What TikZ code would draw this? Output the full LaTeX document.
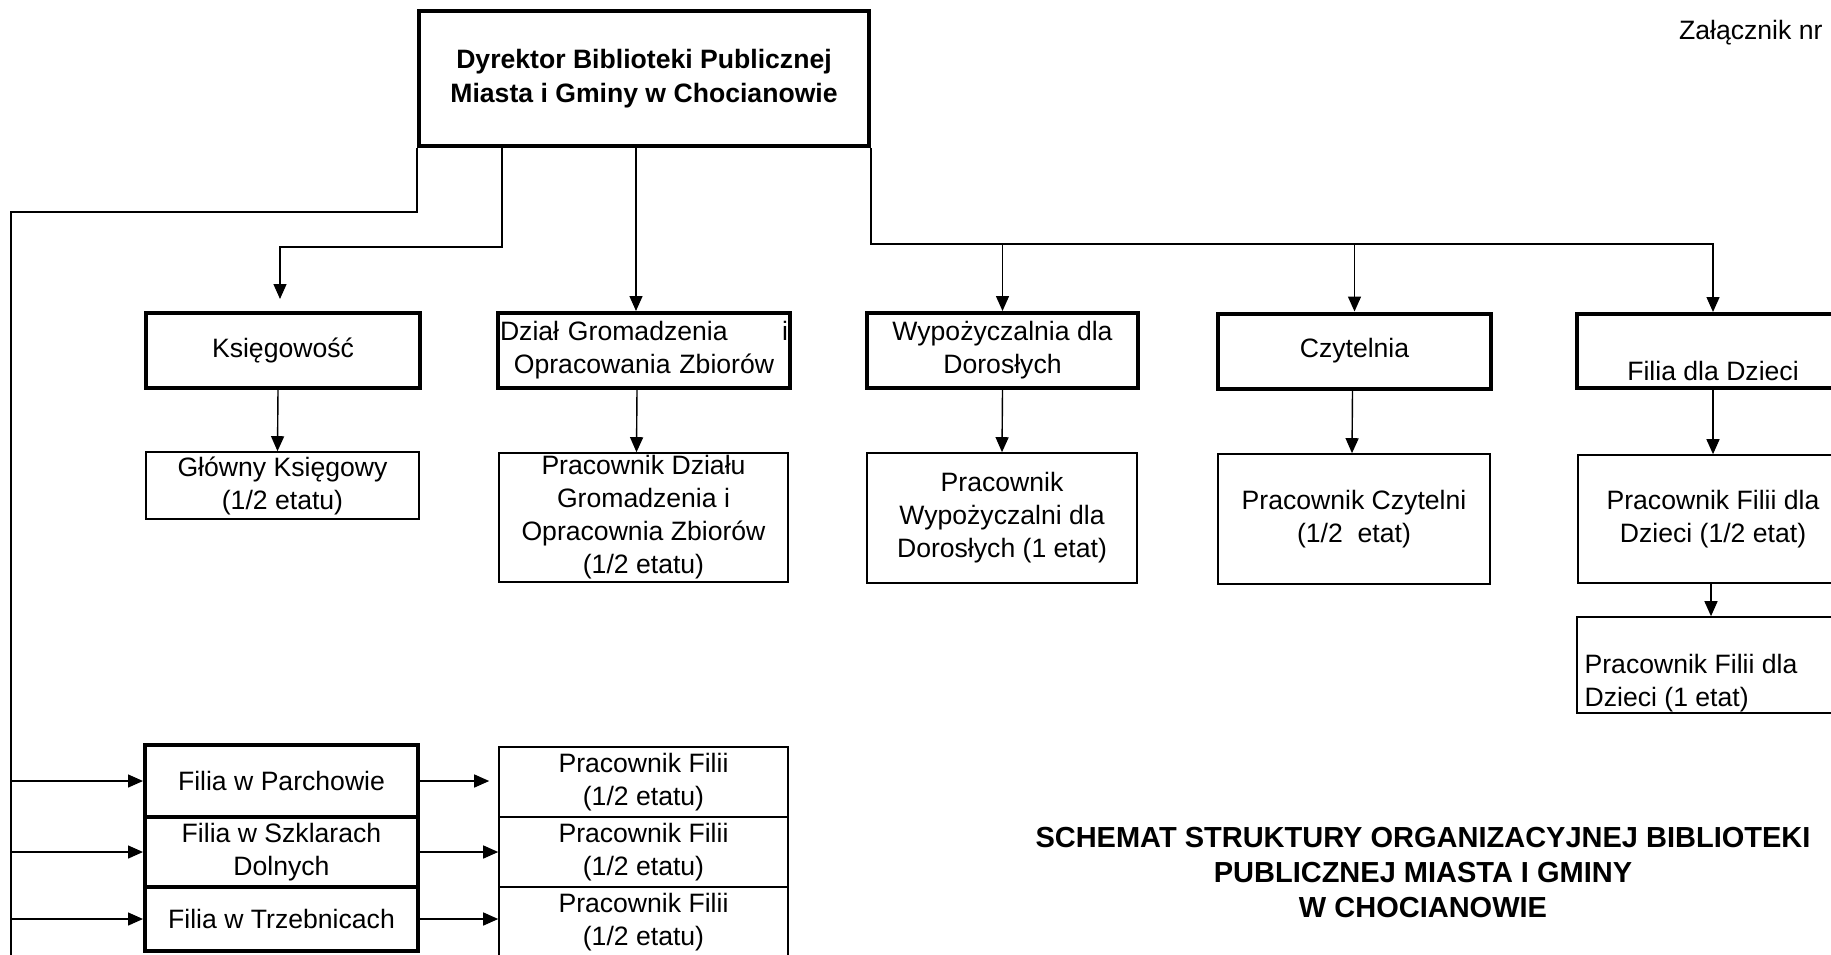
\documentclass[tikz,border=0pt]{standalone}
\usepackage{fontspec}
\setmainfont{Liberation Sans}
\usetikzlibrary{arrows.meta}

\begin{document}
\begin{tikzpicture}[
        x=0.5pt, y=-0.5pt, % 1 jednostka = 1 piksel skanu, os y w dol
        font=\fontsize{13.3}{16.5}\selectfont, % Czcionka dla wszystkich napisow
        % --- Style dla ramek i polaczen ---
        ramka/.style={draw, line width=2pt, align=center, inner sep=1pt},
        pracownik/.style={draw, line width=0.8pt, align=center, inner sep=1pt},
        linia/.style={line width=0.7pt},
        strzalka/.style={-{Triangle[length=7.5pt, width=6.5pt]}, line width=0.7pt},
    ]
        \useasboundingbox (0,0) rectangle (1831,954);

        % --- 1. Dyrektor na gorze ---
        \node[ramka, font=\bfseries\fontsize{13.3}{17}\selectfont, minimum width=225pt, minimum height=67.5pt] (dyrektor) at (644,78.5) {Dyrektor Biblioteki Publicznej\\Miasta i Gminy w Chocianowie};

        % --- 2. Dzialy (grube ramki) ---
        \node[ramka, minimum width=137pt, minimum height=37.5pt] (ksiegowosc) at (283,350.5) {Księgowość};
        \node[ramka, text width=144pt, minimum height=37.5pt] (dzial) at (644,350.5) {Dział Gromadzenia\hfill i\\Opracowania Zbiorów};
        \node[ramka, minimum width=135.5pt, minimum height=37.5pt] (wypozyczalnia) at (1002.5,350.5) {Wypożyczalnia dla\\Dorosłych};
        \node[ramka, minimum width=136.5pt, minimum height=37.5pt] (czytelnia) at (1354.5,351) {Czytelnia};
        \node[ramka, minimum width=136pt, minimum height=37pt, label={[anchor=south, inner sep=4.5pt]south:Filia dla Dzieci}] (filiaDzieci) at (1713,351) {};

        % --- 3. Pracownicy (cienkie ramki) ---
        \node[pracownik, minimum width=136.5pt, minimum height=33.5pt] (glowny) at (282.5,485.5) {Główny Księgowy\\(1/2 etatu)};
        \node[pracownik, inner ysep=0pt, minimum width=144.5pt, minimum height=64.5pt] (pracDzialu) at (643.5,517.5) {Pracownik Działu\\Gromadzenia i\\Opracownia Zbiorów\\(1/2 etatu)};
        \node[pracownik, minimum width=135pt, minimum height=65pt] (pracWyp) at (1002,518) {Pracownik\\Wypożyczalni dla\\Dorosłych (1 etat)};
        \node[pracownik, minimum width=136pt, minimum height=65pt] (pracCzyt) at (1354,519) {Pracownik Czytelni\\(1/2~~etat)};
        \node[pracownik, minimum width=135pt, minimum height=64pt] (pracFiliiDz) at (1713,519) {Pracownik Filii dla\\Dzieci (1/2 etat)};
        \node[pracownik, minimum width=136pt, minimum height=48pt, label={[anchor=south west, align=left, inner xsep=4pt, inner ysep=0.5pt]south west:Pracownik Filii dla\\Dzieci (1 etat)}] (pracFiliiDz2) at (1713,665) {};

        % --- 4. Filie wiejskie i ich pracownicy ---
        \node[ramka, minimum width=136.5pt, minimum height=36pt] (parchowie) at (281.5,781) {Filia w Parchowie};
        \node[ramka, minimum width=136.5pt, minimum height=35pt] (szklary) at (281.5,852) {Filia w Szklarach\\Dolnych};
        \node[ramka, minimum width=136.5pt, minimum height=32pt] (trzebnice) at (281.5,919) {Filia w Trzebnicach};
        \foreach \i/\y in {1/782, 2/852, 3/922} {
            \node[pracownik, minimum width=144.5pt, minimum height=35pt] (pracFilii\i) at (643.5,\y) {Pracownik Filii\\(1/2 etatu)};
        }

        % --- 5. Napisy ---
        \node[font=\bfseries\fontsize{14.5}{17.5}\selectfont, align=center] (tytul) at (1423,873) {SCHEMAT STRUKTURY ORGANIZACYJNEJ BIBLIOTEKI\\PUBLICZNEJ MIASTA I GMINY\\W CHOCIANOWIE};
        \node[anchor=west] (zalacznik) at (1672,33) {Załącznik nr};

        % --- 6. Polaczenia od dyrektora ---
        % Lewy pien prowadzi do filii na dole
        \coordinate (pienGora) at (11,212);
        \coordinate (pienDol) at (11,960);
        \draw[linia] (dyrektor.south west) |- (pienGora) -- (pienDol);
        \coordinate (kolanoK) at (502,247);
        \draw[strzalka] (dyrektor.south -| kolanoK) -- (kolanoK) -| ([xshift=-1.5pt, yshift=6pt]ksiegowosc.north);
        \draw[strzalka] ([xshift=-4pt]dyrektor.south) -- ([xshift=-4pt]dzial.north);
        % Prawa szyna nad dzialami
        \coordinate (szyna) at (1713,244);
        \draw[strzalka] (dyrektor.south east) |- (szyna) -- (filiaDzieci.north);
        \foreach \n in {wypozyczalnia, czytelnia} {
            \draw[strzalka] (\n.north |- szyna) -- (\n.north);
        }

        % --- 7. Polaczenia dzial -> pracownik ---
        \foreach \a/\b/\d in {ksiegowosc/glowny/-2.5pt, dzial/pracDzialu/-3.5pt, wypozyczalnia/pracWyp/0pt, czytelnia/pracCzyt/-1pt, filiaDzieci/pracFiliiDz/0pt, pracFiliiDz/pracFiliiDz2/-1pt} {
            \draw[strzalka] ([xshift=\d]\a.south) -- ([xshift=\d]\b.north);
        }

        % --- 8. Polaczenia do filii ---
        \foreach \n/\p/\s in {parchowie/pracFilii1/4.5pt, szklary/pracFilii2/0pt, trzebnice/pracFilii3/0pt} {
            \draw[strzalka] (\n.west -| pienGora) -- (\n.west);
            \draw[strzalka, shorten >=\s] (\n.east) -- (\n.east -| \p.west);
        }

    \end{tikzpicture}
\end{document}
